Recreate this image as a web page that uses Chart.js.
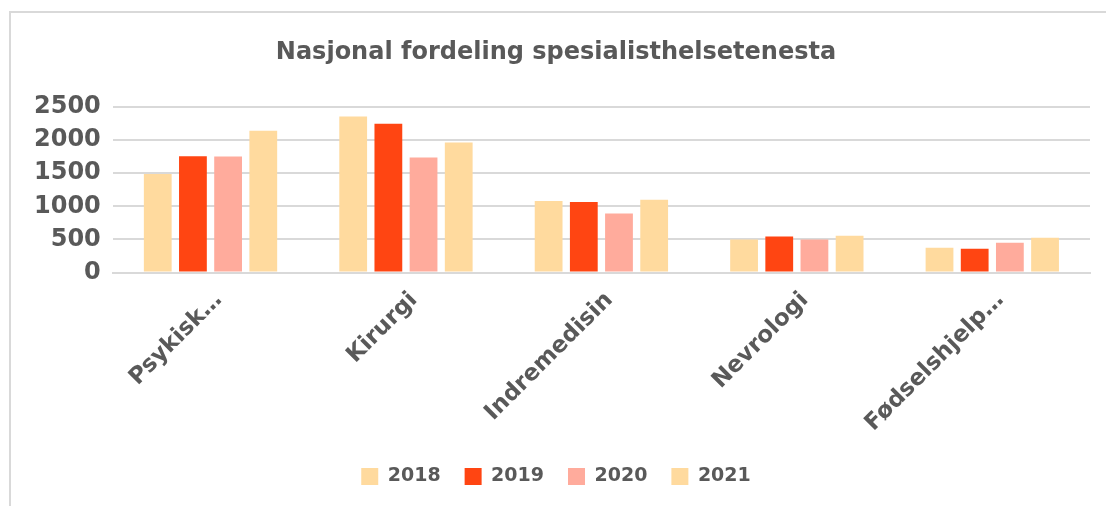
<!DOCTYPE html>
<html>
<head>
<meta charset="utf-8">
<script src="https://cdn.jsdelivr.net/npm/chart.js@4"></script>
<style>
  html, body { margin: 0; padding: 0; background: #fff; }
  body { width: 1106px; height: 506px; overflow: hidden; position: relative; }
  .frame {
    position: absolute; left: 9px; top: 11px; width: 1110px; height: 510px;
    border-top: 2px solid #d9d9d9; border-left: 2px solid #d9d9d9;
  }
  .wrap { position: absolute; left: 0; top: 0; width: 1106px; height: 506px; }
</style>
</head>
<body>
<div class="frame"></div>
<div class="wrap"><canvas id="chart"></canvas></div>
<script>
// ─── DATA ───────────────────────────────────────────
const categories = ['Psykisk…', 'Kirurgi', 'Indremedisin', 'Nevrologi', 'Fødselshjelp…'];
const years = ['2018', '2019', '2020', '2021'];
const values2018 = [1485, 2355, 1080, 500, 375];
const values2019 = [1755, 2245, 1065, 545, 360];
const values2020 = [1750, 1735, 890, 500, 450];
const values2021 = [2140, 1960, 1100, 555, 525];
const yTicks = [0, 500, 1000, 1500, 2000, 2500];

const COLORS = ['#ffda9e', '#ff4512', '#ffab9c', '#ffda9e'];
const TEXT = '#595959';
const FONT = "'DejaVu Sans', sans-serif";

Chart.defaults.font.family = FONT;
Chart.defaults.color = TEXT;

const seriesValues = [values2018, values2019, values2020, values2021];

new Chart(document.getElementById('chart'), {
  type: 'bar',
  data: {
    labels: categories,
    datasets: years.map((y, i) => ({
      label: y,
      data: seriesValues[i],
      backgroundColor: COLORS[i],
      borderWidth: 0,
      categoryPercentage: 0.72,
      barPercentage: 0.79,
    }))
  },
  options: {
    responsive: true,
    maintainAspectRatio: false,
    animation: false,
    layout: { padding: { left: 22, right: 16, top: 32, bottom: 10 } },
    plugins: {
      title: {
        display: true,
        text: 'Nasjonal fordeling spesialisthelsetenesta',
        color: TEXT,
        font: { size: 24, weight: 'bold' },
        padding: { top: 6, bottom: 40 }
      },
      legend: {
        position: 'bottom',
        labels: {
          color: TEXT,
          font: { size: 19, weight: 'bold' },
          boxWidth: 17,
          boxHeight: 17,
          padding: 24,
        }
      },
      tooltip: { enabled: false }
    },
    scales: {
      x: {
        grid: { display: false },
        border: { color: '#d9d9d9', width: 2 },
        ticks: {
          color: TEXT,
          font: { size: 23, weight: 'bold' },
          minRotation: 45,
          maxRotation: 45,
          autoSkip: false,
          padding: 6,
          labelOffset: 8,
        }
      },
      y: {
        min: 0,
        max: 2500,
        afterBuildTicks: axis => { axis.ticks = yTicks.map(v => ({ value: v })); },
        grid: { color: '#d9d9d9', lineWidth: 2, drawTicks: false },
        border: { display: false },
        ticks: {
          color: TEXT,
          font: { size: 24, weight: 'bold' },
          padding: 12,
          callback: v => String(v),
        }
      }
    }
  }
});
</script>
</body>
</html>
